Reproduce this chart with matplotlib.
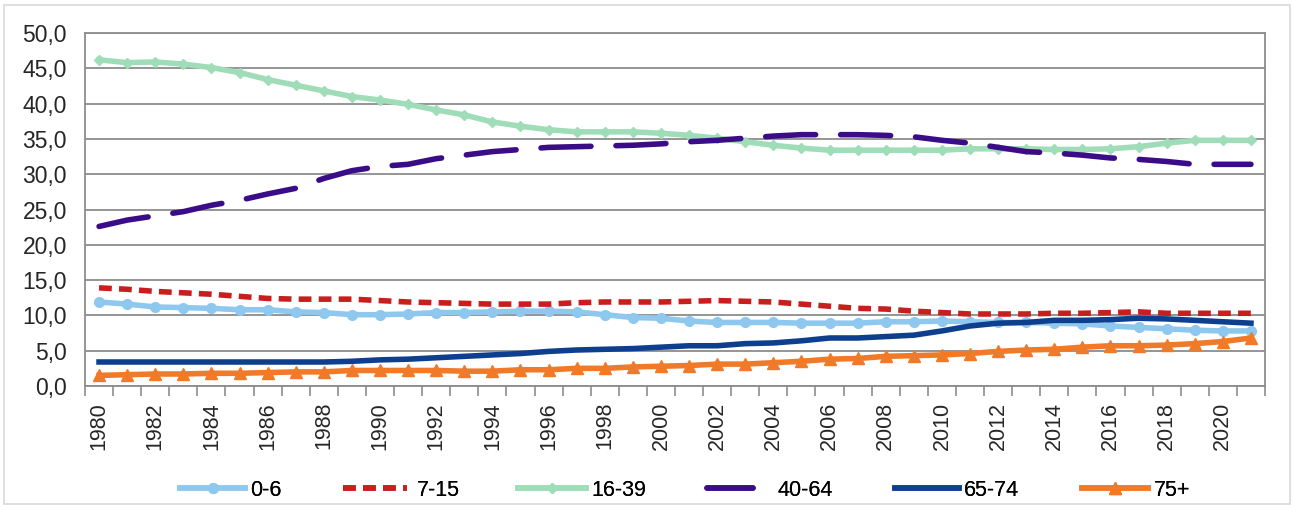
import matplotlib.pyplot as plt
import numpy as np
from matplotlib.patches import Rectangle
from matplotlib.ticker import FuncFormatter

plt.rcParams['font.family'] = ['Liberation Sans', 'DejaVu Sans']

years = list(range(1980, 2022))

age_0_6 = [11.9, 11.6, 11.2, 11.1, 11.0, 10.8, 10.8, 10.5, 10.4, 10.1, 10.1, 10.2, 10.4, 10.4,
           10.5, 10.6, 10.6, 10.5, 10.1, 9.7, 9.6, 9.2, 9.0, 9.0, 9.0, 8.9, 8.9, 8.9,
           9.1, 9.1, 9.2, 9.1, 9.0, 9.0, 8.9, 8.8, 8.5, 8.3, 8.1, 7.9, 7.8, 7.8]
age_7_15 = [13.9, 13.7, 13.4, 13.2, 13.0, 12.7, 12.4, 12.3, 12.3, 12.3, 12.1, 11.9, 11.8, 11.7,
            11.6, 11.6, 11.6, 11.8, 11.9, 11.9, 11.9, 12.0, 12.1, 12.0, 11.9, 11.6, 11.3, 11.0,
            10.9, 10.6, 10.4, 10.2, 10.2, 10.2, 10.3, 10.3, 10.4, 10.5, 10.3, 10.3, 10.3, 10.3]
age_16_39 = [46.2, 45.8, 45.9, 45.6, 45.1, 44.4, 43.4, 42.6, 41.8, 41.0, 40.5, 39.9, 39.1, 38.4,
             37.4, 36.8, 36.3, 36.0, 36.0, 36.0, 35.8, 35.5, 35.1, 34.6, 34.1, 33.7, 33.4, 33.4,
             33.4, 33.4, 33.4, 33.6, 33.6, 33.6, 33.5, 33.5, 33.6, 33.9, 34.4, 34.8, 34.8, 34.8]
age_40_64 = [22.6, 23.5, 24.1, 24.7, 25.6, 26.3, 27.2, 28.0, 29.4, 30.5, 31.1, 31.4, 32.2, 32.7,
             33.2, 33.5, 33.8, 33.9, 34.0, 34.1, 34.3, 34.6, 34.8, 35.1, 35.4, 35.6, 35.6, 35.6,
             35.5, 35.3, 34.8, 34.4, 33.8, 33.2, 33.0, 32.7, 32.3, 32.1, 31.8, 31.4, 31.4, 31.4]
age_65_74 = [3.4, 3.4, 3.4, 3.4, 3.4, 3.4, 3.4, 3.4, 3.4, 3.5, 3.7, 3.8, 4.0, 4.2,
             4.4, 4.6, 4.9, 5.1, 5.2, 5.3, 5.5, 5.7, 5.7, 6.0, 6.1, 6.4, 6.8, 6.8,
             7.0, 7.2, 7.8, 8.5, 8.9, 9.0, 9.3, 9.3, 9.4, 9.6, 9.5, 9.3, 9.1, 8.9]
age_75 = [1.5, 1.6, 1.7, 1.7, 1.8, 1.8, 1.9, 2.0, 2.0, 2.2, 2.2, 2.2, 2.2, 2.1,
          2.1, 2.3, 2.3, 2.5, 2.5, 2.7, 2.8, 2.9, 3.1, 3.1, 3.3, 3.5, 3.8, 3.9,
          4.2, 4.3, 4.4, 4.6, 4.9, 5.1, 5.2, 5.5, 5.7, 5.7, 5.8, 6.0, 6.3, 6.8]

labels = ['0-6', '7-15', '16-39', '40-64', '65-74', '75+']

W, H = 1293, 505
fig = plt.figure(figsize=(W / 100, H / 100), dpi=100)
ax = fig.add_axes([85 / W, 1 - 386 / H, 1180 / W, 353 / H])

x = np.arange(len(years))
lw = 4.0

lines = []
lines += ax.plot(x, age_0_6, color='#8EC8EE', lw=lw, marker='o', ms=7)
lines += ax.plot(x, age_7_15, color='#C81E1E', lw=lw, dashes=(2.3, 1.3))
lines += ax.plot(x, age_16_39, color='#9EDDB8', lw=lw, marker='D', ms=5)
lines += ax.plot(x, age_40_64, color='#3A0C88', lw=lw, dashes=(9, 4.5), dash_capstyle='round')
lines += ax.plot(x, age_65_74, color='#0E3F8E', lw=lw)
lines += ax.plot(x, age_75, color='#F07A28', lw=lw, marker='^', ms=8)

ax.set_xlim(-0.5, len(years) - 0.5)
ax.set_ylim(0, 50)
ax.set_yticks(np.arange(0, 51, 5))
ax.yaxis.set_major_formatter(FuncFormatter(lambda v, p: f'{v:.1f}'.replace('.', ',')))
ax.yaxis.grid(True, color='#8C8C8C', lw=1.3)
ax.set_axisbelow(True)

ax.set_xticks(x[::2])
ax.set_xticklabels([str(y) for y in years[::2]], rotation=90)
ax.set_xticks(np.arange(-0.5, len(years)), minor=True)
ax.tick_params(axis='x', which='major', length=0, labelsize=15.5, pad=11.5, colors='#262626')
ax.tick_params(axis='x', which='minor', length=7, width=1.2, color='#8C8C8C')
ax.tick_params(axis='y', length=0, labelsize=16.5, pad=13, colors='#262626')

for s in ax.spines.values():
    s.set_color('#8C8C8C')
    s.set_linewidth(1.3)

# legend entries placed one by one like the Excel legend
leg_x = [180, 343, 518, 707, 895, 1082]
leg_len = [65, 64, 68, 46, 64, 66]
leg_gap = [5, 10, 5, 25, 5, 6]
for h, lab, lx, ll, lg in zip(lines, labels, leg_x, leg_len, leg_gap):
    fs = 15.5
    em = fs * 100 / 72
    leg = fig.legend([h], [lab], loc='center left', bbox_to_anchor=(lx / W, 1 - 490 / H),
                     frameon=False, fontsize=fs, handlelength=ll / em,
                     handletextpad=lg / em, borderpad=0, borderaxespad=0)
    fig.add_artist(leg)

fig.patches.append(Rectangle((4 / W, 1 / H), 1286 / W, 499 / H, transform=fig.transFigure,
                             fill=False, edgecolor='#D9D9D9', lw=1.2))

fig.savefig('out.png', dpi=100)
